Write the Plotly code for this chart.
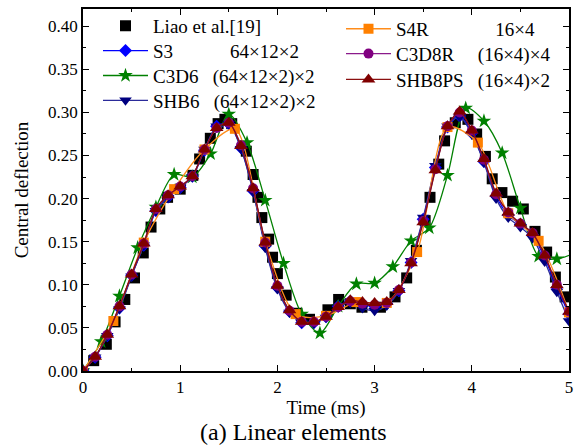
import plotly.graph_objects as go

# ---------------- data ----------------
# Liao et al. [19] reference points
t_liao = [0.11, 0.24, 0.33, 0.43, 0.53, 0.62, 0.70, 0.79, 0.87, 1.00, 1.13, 1.20, 1.31, 1.39, 1.46,
          1.53, 1.68, 1.75, 1.80, 1.84, 1.91, 1.95, 2.00, 2.09, 2.20, 2.33, 2.52, 2.63, 2.75, 2.87,
          3.06, 3.21, 3.33, 3.43, 3.52, 3.57, 3.66, 3.72, 3.83, 3.96, 4.05, 4.14, 4.21, 4.31, 4.42,
          4.53, 4.65, 4.77, 4.86, 4.96]
w_liao = [0.012, 0.031, 0.057, 0.083, 0.108, 0.137, 0.167, 0.188, 0.2015, 0.211, 0.227, 0.246, 0.270, 0.287, 0.292,
          0.287, 0.255, 0.228, 0.2015, 0.178, 0.153, 0.132, 0.113, 0.088, 0.067, 0.060, 0.071, 0.083, 0.078, 0.074,
          0.074, 0.086, 0.108, 0.140, 0.1745, 0.2015, 0.240, 0.267, 0.288, 0.292, 0.275, 0.249, 0.223, 0.207, 0.197,
          0.188, 0.162, 0.138, 0.109, 0.086]

# time grid of S3 / SHB6 / C3D8R / SHB8PS outputs
t_sim = [0.0, 0.125, 0.25, 0.375, 0.5, 0.625, 0.75, 0.875, 1.0, 1.125, 1.25, 1.375, 1.5, 1.625,
         1.75, 1.875, 2.0, 2.125, 2.25, 2.375, 2.5, 2.625, 2.75, 2.875, 3.0, 3.125, 3.25, 3.375,
         3.5, 3.625, 3.75, 3.875, 4.0, 4.125, 4.25, 4.375, 4.5, 4.625, 4.75, 4.875, 5.0]

w_s3 = [0.0, 0.016, 0.041, 0.073, 0.111, 0.146, 0.186, 0.202, 0.213, 0.226, 0.256, 0.284, 0.287, 0.259,
        0.209, 0.145, 0.097, 0.069, 0.056, 0.056, 0.063, 0.075, 0.081, 0.078, 0.075, 0.078, 0.093, 0.126,
        0.176, 0.236, 0.283, 0.296, 0.276, 0.243, 0.203, 0.181, 0.170, 0.158, 0.131, 0.097, 0.066]

w_shb6 = [0.0, 0.016, 0.041, 0.072, 0.110, 0.146, 0.186, 0.201, 0.213, 0.225, 0.257, 0.284, 0.287, 0.258,
          0.208, 0.143, 0.095, 0.068, 0.056, 0.055, 0.062, 0.074, 0.080, 0.073, 0.070, 0.076, 0.093, 0.128,
          0.178, 0.238, 0.284, 0.295, 0.275, 0.242, 0.200, 0.178, 0.167, 0.154, 0.127, 0.092, 0.058]

w_c3d8r = [0.0, 0.0165, 0.042, 0.075, 0.112, 0.148, 0.188, 0.204, 0.214, 0.226, 0.257, 0.282, 0.288, 0.262,
           0.212, 0.149, 0.099, 0.070, 0.057, 0.057, 0.063, 0.074, 0.081, 0.078, 0.077, 0.079, 0.094, 0.126,
           0.174, 0.234, 0.284, 0.300, 0.279, 0.245, 0.205, 0.184, 0.171, 0.160, 0.134, 0.100, 0.069]

w_shb8ps = [0.0, 0.0165, 0.042, 0.075, 0.112, 0.148, 0.188, 0.204, 0.214, 0.226, 0.257, 0.282, 0.288, 0.261,
            0.212, 0.149, 0.099, 0.0705, 0.057, 0.057, 0.063, 0.0743, 0.082, 0.080, 0.079, 0.080, 0.094, 0.125,
            0.1726, 0.233, 0.284, 0.301, 0.279, 0.246, 0.206, 0.184, 0.171, 0.160, 0.134, 0.0994, 0.0686]

# C3D6 output grid
t_c3d6 = [0.0, 0.1875, 0.375, 0.5625, 0.75, 0.9375, 1.125, 1.3125, 1.5, 1.6875, 1.875, 2.0625, 2.25,
          2.4375, 2.625, 2.8125, 3.0, 3.1875, 3.375, 3.5625, 3.75, 3.9375, 4.125, 4.3125, 4.5, 4.6875,
          4.875, 5.0625]
w_c3d6 = [0.0, 0.034, 0.087, 0.143, 0.190, 0.228, 0.225, 0.252, 0.298, 0.265, 0.198, 0.125, 0.066,
          0.044, 0.075, 0.101, 0.102, 0.121, 0.151, 0.166, 0.227, 0.305, 0.290, 0.253, 0.189, 0.133,
          0.130, 0.137]

# S4R output grid
t_s4r = [0.0, 0.3125, 0.625, 0.9375, 1.25, 1.5625, 1.875, 2.1875, 2.5, 2.8125, 3.125, 3.4375,
         3.75, 4.0625, 4.375, 4.6875, 5.0]
w_s4r = [0.0, 0.058, 0.149, 0.211, 0.257, 0.281, 0.150, 0.066, 0.064, 0.080, 0.079, 0.138,
         0.283, 0.265, 0.183, 0.151, 0.068]

# legend labels
lbl_liao = "Liao et al.[19]"
lbl_s3 = "S3" + "\u00a0" * 12 + "64×12×2"
lbl_c3d6 = "C3D6" + "\u00a0" * 3 + "(64×12×2)×2"
lbl_shb6 = "SHB6" + "\u00a0" * 3 + "(64×12×2)×2"
lbl_s4r = "S4R" + "\u00a0" * 14 + "16×4"
lbl_c3d8r = "C3D8R" + "\u00a0" * 5 + "(16×4)×4"
lbl_shb8ps = "SHB8PS" + "\u00a0" * 3 + "(16×4)×2"

FONT = "Liberation Serif, Times New Roman, serif"

fig = go.Figure()

def add(t, w, name, color, lcolor, symbol, size, leg, mode="lines+markers"):
    fig.add_trace(go.Scatter(
        x=t, y=w, name=name, mode=mode, legend=leg, showlegend=True,
        line=dict(color=lcolor, width=1.3, shape="spline", smoothing=0.8),
        marker=dict(symbol=symbol, size=size, color=color, line=dict(width=0)),
    ))

add(t_liao, w_liao, lbl_liao, "#000000", "#000000", "square", 11, "legend", mode="markers")
add(t_sim, w_s3, lbl_s3, "#0000ff", "#0000ff", "diamond", 10, "legend2")
add(t_c3d6, w_c3d6, lbl_c3d6, "#008000", "#008000", "star", 11, "legend3")
add(t_sim, w_shb6, lbl_shb6, "#000080", "#2b2b9a", "triangle-down", 11, "legend4")
add(t_s4r, w_s4r, lbl_s4r, "#ff8000", "#ff8c1a", "square", 10, "legend5")
add(t_sim, w_c3d8r, lbl_c3d8r, "#800080", "#8b1a8b", "circle", 10, "legend6")
add(t_sim, w_shb8ps, lbl_shb8ps, "#800000", "#8b1010", "triangle-up", 12, "legend7")

L, R, T, B = 83, 569, 7, 371

def leg(xpx, ypx):
    return dict(x=(xpx - L) / (R - L), y=(B - ypx) / (B - T), xref="paper", yref="paper",
                xanchor="left", yanchor="middle", bgcolor="rgba(0,0,0,0)", borderwidth=0,
                font=dict(family=FONT, size=19, color="black"), itemwidth=45)

layout_legends = dict(
    legend=leg(98, 24), legend2=leg(98, 49), legend3=leg(98, 74), legend4=leg(98, 99),
    legend5=leg(341, 27), legend6=leg(341, 52), legend7=leg(341, 78),
)

fig.update_layout(
    width=578, height=447, showlegend=True,
    margin=dict(l=L, r=578 - R, t=T, b=447 - B, pad=0),
    paper_bgcolor="white", plot_bgcolor="white",
    font=dict(family=FONT, color="black", size=17),
    **layout_legends,
)

fig.update_xaxes(
    range=[0, 5], tickvals=[0, 1, 2, 3, 4, 5], ticks="inside", ticklen=6, tickwidth=1.3,
    tickcolor="black", showline=True, linewidth=1.5, linecolor="black", mirror="ticks",
    showgrid=False, zeroline=False, tickfont=dict(family=FONT, size=17), automargin=False,
    minor=dict(dtick=0.5, ticks="inside", ticklen=3, tickwidth=1.2, tickcolor="black", showgrid=False),
    title=dict(text="Time (ms)", font=dict(family=FONT, size=19), standoff=5),
)
fig.update_yaxes(
    range=[0, 0.42], tick0=0, dtick=0.05, tickformat=".2f", ticks="inside", ticklen=6, tickwidth=1.3,
    tickcolor="black", showline=True, linewidth=1.5, linecolor="black", mirror="ticks",
    showgrid=False, zeroline=False, tickfont=dict(family=FONT, size=17), automargin=False,
    minor=dict(dtick=0.025, ticks="inside", ticklen=3, tickwidth=1.2, tickcolor="black", showgrid=False),
    title=dict(text="Central deflection", font=dict(family=FONT, size=19), standoff=14),
)

fig.add_annotation(
    text="(a) Linear elements", xref="paper", yref="paper",
    x=(293 - L) / (R - L), y=(B - 432) / (B - T), xanchor="center", yanchor="middle",
    showarrow=False, font=dict(family=FONT, size=24, color="black"),
)

fig.write_html("out.html", config={"displayModeBar": False},
               post_script="document.body.style.margin='0';")
